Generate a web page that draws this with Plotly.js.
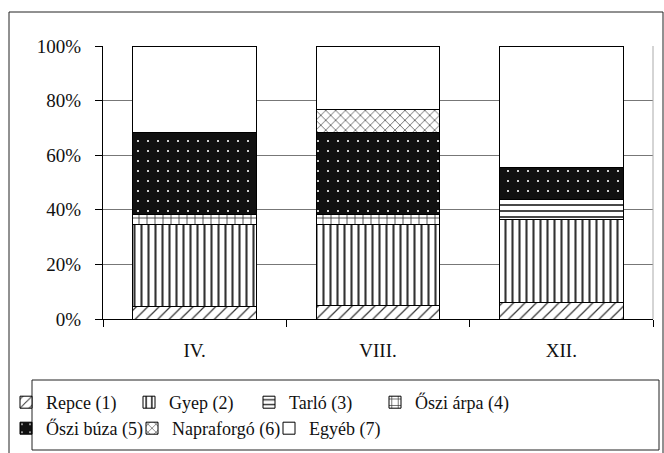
<!DOCTYPE html>
<html>
<head>
<meta charset="utf-8">
<script src="https://cdn.plot.ly/plotly-3.0.1.min.js"></script>
<style>html,body{margin:0;padding:0;background:#fff;}#chart{width:664px;height:453px;}</style>
</head>
<body>
<div id="chart"></div>
<script>
// ---- data (percent of area) ----
var categories = ['IV.', 'VIII.', 'XII.'];
var seriesNames = ['Repce (1)', 'Gyep (2)', 'Tarló (3)', 'Őszi árpa (4)', 'Őszi búza (5)', 'Napraforgó (6)', 'Egyéb (7)'];
var repce      = [4.5, 4.8, 6.0];
var gyep       = [30.2, 29.9, 30.6];
var tarlo      = [0, 0, 7.3];
var osziArpa   = [3.4, 3.4, 0];
var osziBuza   = [30.1, 30.1, 11.5];
var napraforgo = [0, 8.4, 0];
var egyeb      = [31.8, 23.4, 44.6];
var yTickVals  = [0, 20, 40, 60, 80, 100];
var yTickText  = ['0%', '20%', '40%', '60%', '80%', '100%'];

var seriesValues = [repce, gyep, tarlo, osziArpa, osziBuza, napraforgo, egyeb];

// ---- styling ----
var W = 664, H = 453;
var M = {l: 103, r: 11, t: 46, b: 134, autoexpand: false};
var PW = W - M.l - M.r, PH = H - M.t - M.b;
function px(x) { return (x - M.l) / PW; }
function py(y) { return (H - M.b - y) / PH; }

var FAMILY = 'Liberation Serif, Times New Roman, serif';

var styles = [
  {color: 'white', pattern: {shape: '/', size: 8, solidity: 0.15, fgcolor: '#333', bgcolor: 'white'}, lx: 6, ly: 384},
  {color: 'white', pattern: {shape: '|', size: 7, solidity: 0.3, fgcolor: '#333', bgcolor: 'white'}, lx: 129, ly: 384},
  {color: 'white', pattern: {shape: '-', size: 6, solidity: 0.3, fgcolor: '#333', bgcolor: 'white'}, lx: 249, ly: 384},
  {color: 'white', pattern: {shape: '+', size: 8, solidity: 0.2, fgcolor: '#333', bgcolor: 'white'}, lx: 375, ly: 384},
  {color: '#111', pattern: {shape: '.', size: 10, solidity: 0.035, fgcolor: 'white', bgcolor: '#111'}, lx: 6, ly: 410},
  {color: 'white', pattern: {shape: 'x', size: 7, solidity: 0.2, fgcolor: '#444', bgcolor: 'white'}, lx: 132, ly: 410},
  {color: 'white', lx: 269, ly: 410}
];

var traces = seriesNames.map(function (name, i) {
  var s = styles[i];
  var marker = {color: s.color, line: {color: '#000', width: 1}};
  if (s.pattern) marker.pattern = s.pattern;
  return {
    type: 'bar', name: name, x: categories, y: seriesValues[i],
    marker: marker, legend: i === 0 ? 'legend' : 'legend' + (i + 1), hoverinfo: 'skip'
  };
});

var layout = {
  width: W, height: H,
  margin: M,
  paper_bgcolor: 'white', plot_bgcolor: 'white',
  barmode: 'stack', bargap: 0.324,
  font: {family: FAMILY, size: 19, color: '#111'},
  showlegend: true,
  xaxis: {
    type: 'category', showline: true, linecolor: '#000', linewidth: 1,
    ticks: 'outside', tickson: 'boundaries', ticklen: 7, tickcolor: '#000',
    showgrid: false, ticklabelstandoff: 14, tickfont: {family: FAMILY, size: 19},
    automargin: false
  },
  yaxis: {
    range: [0, 100], tickvals: yTickVals, ticktext: yTickText,
    showline: true, linecolor: '#000', linewidth: 1,
    ticks: 'outside', ticklen: 7, tickcolor: '#000',
    showgrid: true, gridcolor: '#777', gridwidth: 1, zeroline: false,
    ticklabelstandoff: 10, tickfont: {family: FAMILY, size: 19},
    automargin: false
  },
  shapes: [
    {type: 'rect', xref: 'paper', yref: 'paper', x0: px(9), x1: px(663), y0: py(12), y1: py(480), line: {color: '#222', width: 1}},
    {type: 'rect', xref: 'paper', yref: 'paper', x0: px(32), x1: px(659), y0: py(380), y1: py(450), line: {color: '#222', width: 1}},
    {type: 'line', xref: 'paper', yref: 'paper', x0: 1, x1: 1, y0: 0, y1: 1, line: {color: '#aaa', width: 1}}
  ]
};

styles.forEach(function (s, i) {
  var key = i === 0 ? 'legend' : 'legend' + (i + 1);
  layout[key] = {
    orientation: 'h', x: px(s.lx), xanchor: 'left', y: py(s.ly), yanchor: 'top',
    font: {family: FAMILY, size: 18, color: '#111'}, bgcolor: 'rgba(0,0,0,0)', borderwidth: 0, itemwidth: 30
  };
});

Plotly.newPlot('chart', traces, layout, {displayModeBar: false, staticPlot: true});
</script>
</body>
</html>
